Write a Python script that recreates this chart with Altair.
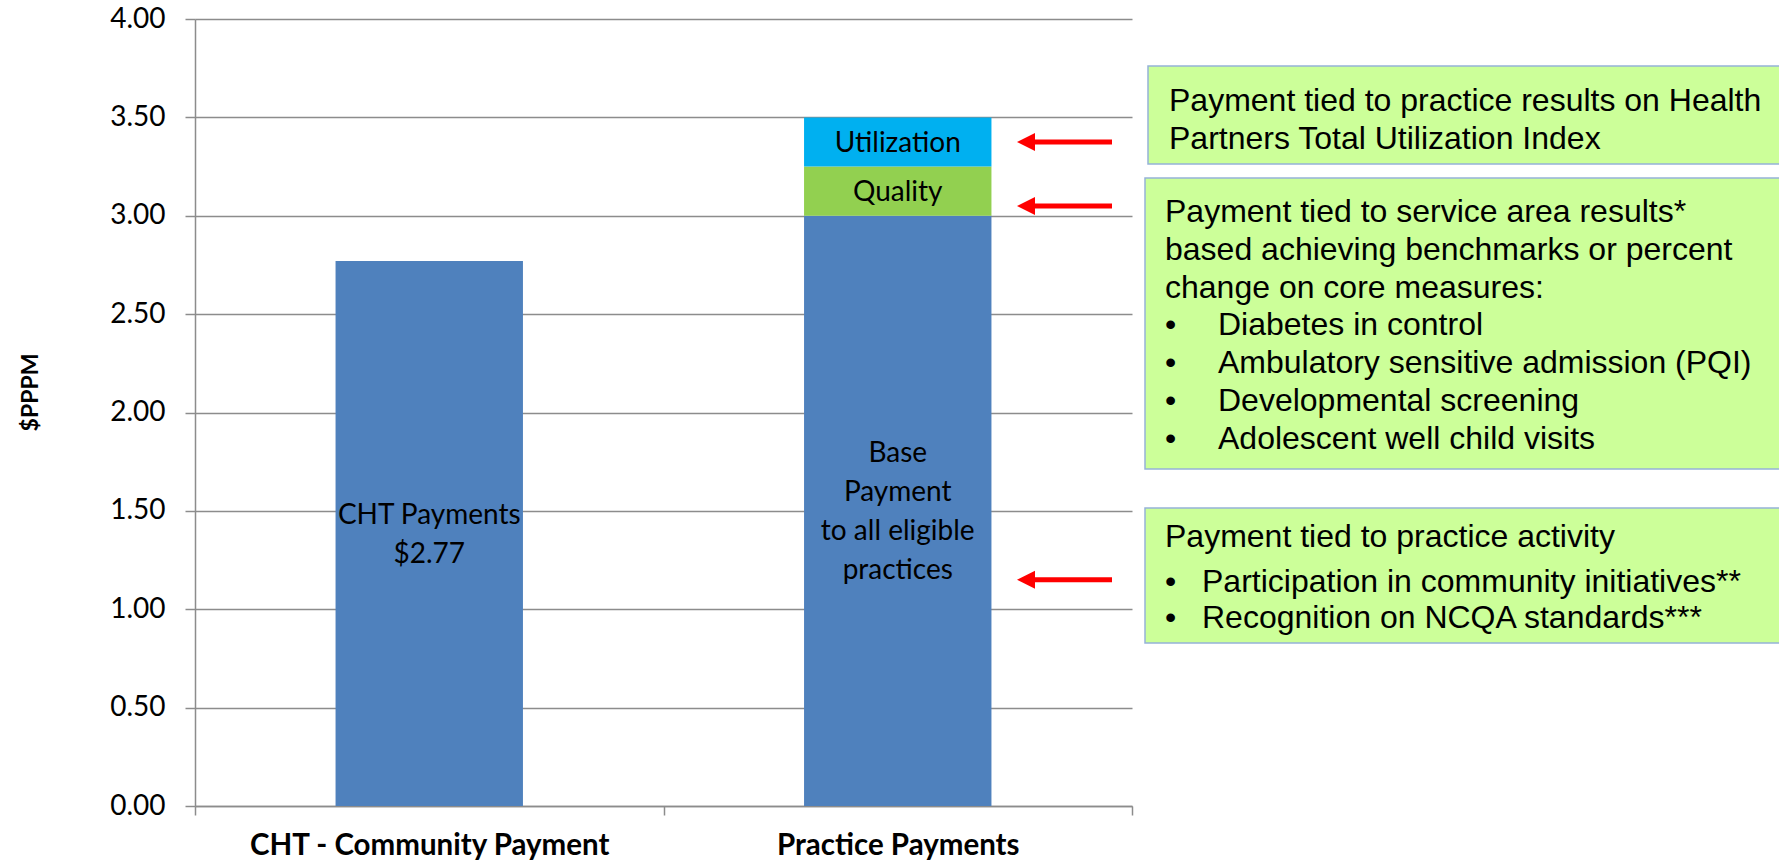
import altair as alt
import pandas as pd

# ---------------- data ----------------
categories = ["CHT - Community Payment", "Practice Payments", "Practice Payments", "Practice Payments"]
segments = ["CHT Payments", "Base", "Quality", "Utilization"]
values = [2.77, 3.00, 0.25, 0.25]
bar_labels = ["CHT Payments\n$2.77", "Base\nPayment\nto all eligible\npractices", "Quality", "Utilization"]
category_order = ["CHT - Community Payment", "Practice Payments"]
y_ticks = [0, 0.5, 1.0, 1.5, 2.0, 2.5, 3.0, 3.5, 4.0]
arrow_levels = [3.375, 3.05, 1.15]

box1_lines = ["Payment tied to practice results on Health", "Partners Total Utilization Index"]
box2_lines = ["Payment tied to service area results*", "based achieving benchmarks or percent",
              "change on core measures:"]
box2_bullets = ["Diabetes in control", "Ambulatory sensitive admission (PQI)",
                "Developmental screening", "Adolescent well child visits"]
box3_lines = ["Payment tied to practice activity"]
box3_bullets = ["Participation in community initiatives**", "Recognition on NCQA standards***"]

# ---------------- styles / layout ----------------
segment_colors = ["#4F81BD", "#4F81BD", "#92D050", "#00B0F0"]
GRID = "#8c8c8c"
W, H = 1779, 865
L, T = 195, 19           # plot origin
PW, PH = 937, 787        # plot size
LABEL_LH = 39            # line height of in-bar labels

df = pd.DataFrame({"category": categories, "segment": segments, "value": values, "label": bar_labels})
df["y1"] = df.groupby("category")["value"].cumsum()
df["y0"] = df["y1"] - df["value"]
df["mid"] = (df["y0"] + df["y1"]) / 2

# one row per label line, with its vertical slot relative to the segment middle
line_rows = []
for _, r in df.iterrows():
    parts = r["label"].split("\n")
    n = len(parts)
    for k, p in enumerate(parts):
        line_rows.append({"category": r["category"], "mid": r["mid"], "line": p,
                          "slot": 2 * k - (n - 1)})   # in half line-heights
lines_df = pd.DataFrame(line_rows)

y_scale = alt.Scale(domain=[0, 4], nice=False, zero=True)
x_scale = alt.Scale(domain=category_order, paddingInner=0, paddingOuter=0)

bars = alt.Chart(df).mark_bar(width=alt.RelativeBandSize(0.4)).encode(
    x=alt.X("category:N", scale=x_scale, sort=category_order, title=None,
            axis=alt.Axis(labelAngle=0, labelFont="Lato", labelFontWeight="bold", labelFontSize=29.5,
                          labelColor="black", labelPadding=16, tickBand="extent", tickSize=9,
                          tickColor=GRID, tickWidth=1.5, domainColor=GRID, domainWidth=1.5,
                          labelLimit=800, grid=False)),
    y=alt.Y("y0:Q", scale=y_scale, title="$PPPM",
            axis=alt.Axis(values=y_ticks, format=".2f", labelFont="Lato", labelFontSize=28,
                          labelColor="black", labelPadding=20, tickSize=10, tickColor=GRID,
                          tickWidth=1.5, domainColor=GRID, domainWidth=1.5, gridColor=GRID,
                          gridWidth=1.5, titleFont="Lato", titleFontWeight="bold", titleFontSize=23,
                          titleColor="black", titleAngle=270, titleX=30 - L, titleY=392 - T,
                          titleAlign="center", titleBaseline="middle")),
    y2="y1:Q",
    color=alt.Color("segment:N", scale=alt.Scale(domain=segments, range=segment_colors), legend=None),
)

label_layers = []
for slot in sorted(lines_df["slot"].unique()):
    label_layers.append(
        alt.Chart(lines_df).transform_filter(alt.datum.slot == int(slot)).mark_text(
            font="Lato", fontSize=28, baseline="middle", align="center", color="black",
            dy=int(slot) * LABEL_LH / 2 + 2,
        ).encode(
            x=alt.X("category:N", scale=x_scale, sort=category_order, title=None),
            y=alt.Y("mid:Q", scale=y_scale, title="$PPPM"),
            text="line:N",
        )
    )

arrows_df = pd.DataFrame({"level": arrow_levels})
arrow_shafts = alt.Chart(arrows_df).mark_rule(color="#FF0000", strokeWidth=5).encode(
    x=alt.value(1030 - L), x2=alt.value(1112 - L),
    y=alt.Y("level:Q", scale=y_scale, title="$PPPM"),
)
arrow_heads = alt.Chart(arrows_df).mark_point(shape="M-1,0L1,-1L1,1Z", filled=True, size=324,
                                              color="#FF0000", opacity=1, strokeWidth=0).encode(
    x=alt.value(1026 - L),
    y=alt.Y("level:Q", scale=y_scale, title="$PPPM"),
)

# annotation boxes (pixel layout)
boxes_df = pd.DataFrame({
    "bx": [1148 - L, 1145 - L, 1145 - L],
    "bx2": [1800 - L, 1800 - L, 1800 - L],
    "by": [66 - T, 178 - T, 508 - T],
    "by2": [164 - T, 469 - T, 643 - T],
})
boxes = alt.Chart(boxes_df).mark_rect(fill="#CCFF99", stroke="#95B3D7", strokeWidth=1.5).encode(
    x=alt.X("bx:Q", scale=None, axis=None), x2="bx2:Q",
    y=alt.Y("by:Q", scale=None, axis=None), y2="by2:Q",
)

rows = []
for i, t in enumerate(box1_lines):
    rows.append((t, 1169, 111 + i * 38))
for i, t in enumerate(box2_lines):
    rows.append((t, 1165, 222 + i * 37.8))
for j, t in enumerate(box2_bullets):
    yy = 222 + (len(box2_lines) + j) * 37.8
    rows.append(("\u2022", 1165, yy))
    rows.append((t, 1218, yy))
for i, t in enumerate(box3_lines):
    rows.append((t, 1165, 547 + i * 36))
for j, t in enumerate(box3_bullets):
    yy = 592 + j * 36
    rows.append(("\u2022", 1165, yy))
    rows.append((t, 1202, yy))
ann_df = pd.DataFrame(rows, columns=["text", "px", "py"])
ann_df["px"] = ann_df["px"] - L
ann_df["py"] = ann_df["py"] - T

ann_text = alt.Chart(ann_df).mark_text(font="Liberation Sans", fontSize=32, align="left",
                                       baseline="alphabetic", color="black").encode(
    x=alt.X("px:Q", scale=None, axis=None),
    y=alt.Y("py:Q", scale=None, axis=None),
    text="text:N",
)

chart = alt.layer(bars, *label_layers, arrow_shafts, arrow_heads, boxes, ann_text).properties(
    width=PW, height=PH,
    autosize=alt.AutoSizeParams(type="none"),
    padding={"left": L, "top": T, "right": W - L - PW, "bottom": H - T - PH},
    background="white",
).configure_view(stroke=None)

chart.save("out.html", embed_options={"renderer": "svg", "actions": False})
